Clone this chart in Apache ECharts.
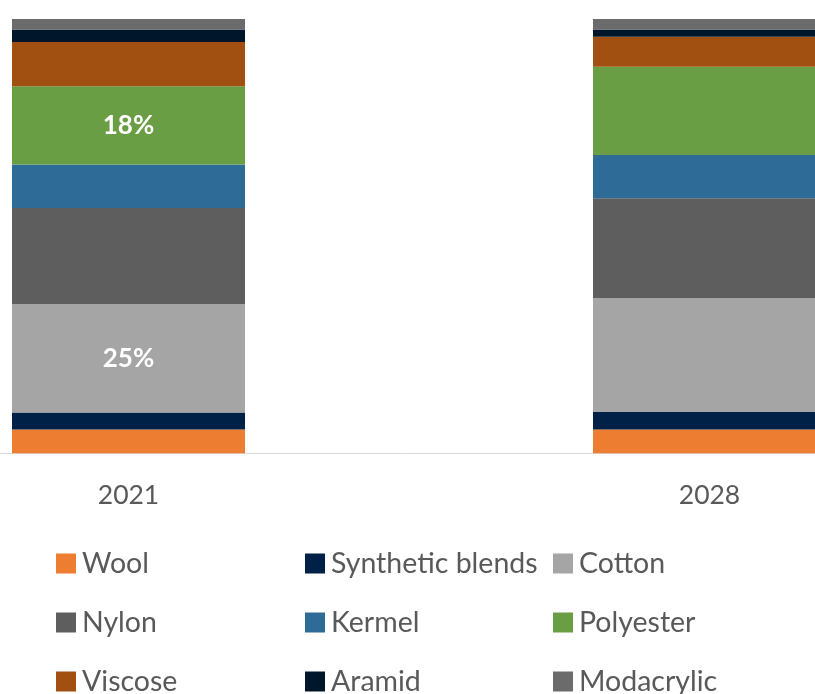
<!DOCTYPE html>
<html>
<head>
<meta charset="utf-8">
<script src="https://cdn.jsdelivr.net/npm/echarts@6/dist/echarts.min.js"></script>
<style>
  html, body { margin: 0; padding: 0; background: #ffffff; }
  #chart { width: 815px; height: 694px; }
</style>
</head>
<body>
<div id="chart"></div>
<script>
// Fibre mix share (%) by year, stacked from the bottom up
const years = ['2021', '2028'];

const wool            = [5.5, 5.5];
const syntheticBlends = [3.9, 4.0];
const cotton          = [25, 26.2];
const nylon           = [22.1, 23.0];
const kermel          = [10.0, 10.0];
const polyester       = [18, 20.3];
const viscose         = [10.2, 6.9];
const aramid          = [2.9, 1.7];
const modacrylic      = [2.4, 2.4];

const fibres = [
  { name: 'Wool',             values: wool,            color: '#ED7D31' },
  { name: 'Synthetic blends', values: syntheticBlends, color: '#002147' },
  { name: 'Cotton',           values: cotton,          color: '#A5A5A5' },
  { name: 'Nylon',            values: nylon,           color: '#5E5E5E' },
  { name: 'Kermel',           values: kermel,          color: '#2E6B97' },
  { name: 'Polyester',        values: polyester,       color: '#699E44' },
  { name: 'Viscose',          values: viscose,         color: '#A24F12' },
  { name: 'Aramid',           values: aramid,          color: '#00172B' },
  { name: 'Modacrylic',       values: modacrylic,      color: '#6B6B6B' }
];

// Segments that carry a percentage label: [fibre, year]
const labelled = [['Cotton', '2021'], ['Polyester', '2021']];

const FONT = 'Lato';
const TEXT_GREY = '#595959';

const series = fibres.map(f => ({
  name: f.name,
  type: 'bar',
  stack: 'share',
  barWidth: 233,
  itemStyle: { color: f.color },
  emphasis: { disabled: true },
  data: f.values.map((v, i) => {
    const show = labelled.some(([n, y]) => n === f.name && y === years[i]);
    return {
      value: v,
      label: {
        show: show,
        position: 'inside',
        formatter: p => Math.round(p.value) + '%',
        color: '#ffffff',
        fontFamily: FONT,
        fontWeight: 'bold',
        fontSize: 26
      }
    };
  })
}));

// Legend laid out as three columns of three entries
const legendColumns = [
  ['Wool', 'Nylon', 'Viscose'],
  ['Synthetic blends', 'Kermel', 'Aramid'],
  ['Cotton', 'Polyester', 'Modacrylic']
];
const columnLeft = [56, 305, 553];

const legend = legendColumns.map((names, c) => ({
  data: names,
  orient: 'vertical',
  left: columnLeft[c],
  top: 549,
  height: 170,
  padding: 0,
  icon: 'rect',
  itemWidth: 20,
  itemHeight: 20,
  itemGap: 30,
  selectedMode: false,
  textStyle: {
    fontFamily: FONT,
    fontSize: 28.5,
    color: TEXT_GREY,
    padding: [0, 0, 0, 1]
  }
}));

const chart = echarts.init(document.getElementById('chart'), null, { renderer: 'canvas' });
chart.setOption({
  animation: false,
  backgroundColor: '#ffffff',
  legend: legend,
  grid: {
    left: -162,
    width: 1162,
    top: 19,
    height: 434.3,
    containLabel: false,
    outerBoundsMode: 'none'
  },
  xAxis: {
    type: 'category',
    data: years,
    axisLine: { show: true, lineStyle: { color: '#D9D9D9', width: 1 } },
    axisTick: { show: false },
    axisLabel: {
      fontFamily: FONT,
      fontSize: 26.5,
      color: TEXT_GREY,
      margin: 29
    }
  },
  yAxis: {
    type: 'value',
    min: 0,
    max: 100,
    show: false
  },
  series: series
});
</script>
</body>
</html>
